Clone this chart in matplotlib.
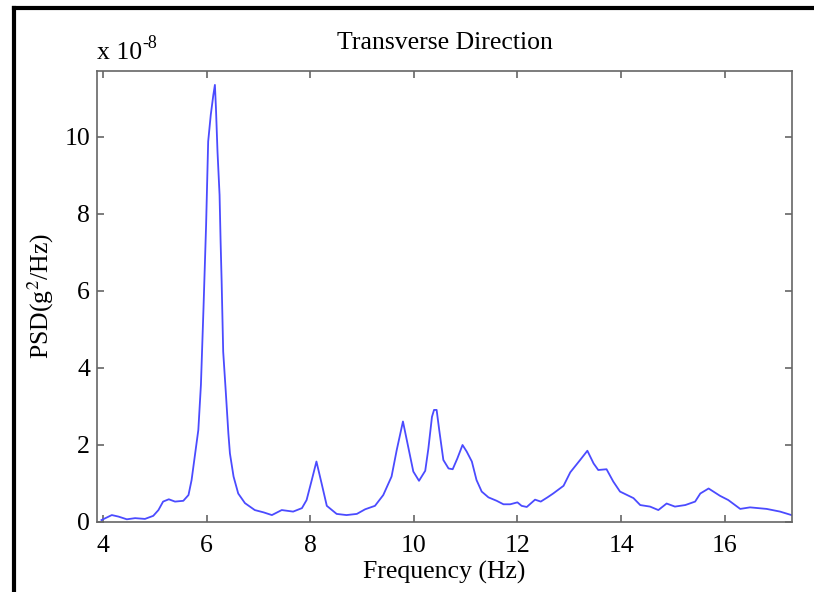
import numpy as np
import matplotlib
matplotlib.use('Agg')
import matplotlib.pyplot as plt
from matplotlib.lines import Line2D

plt.rcParams['font.family'] = ['Liberation Serif', 'DejaVu Serif']
plt.rcParams['mathtext.fontset'] = 'stix'

# frequency (Hz) and PSD (x 1e-8 g^2/Hz)
freq = [3.97, 4.17, 4.30, 4.46, 4.62, 4.81, 4.97, 5.07, 5.16, 5.27, 5.39, 5.55,
        5.65, 5.71, 5.78, 5.84, 5.89, 5.94, 5.99, 6.03, 6.08, 6.13, 6.16, 6.18,
        6.21, 6.25, 6.27, 6.29, 6.32, 6.37, 6.42, 6.45, 6.52, 6.61, 6.74, 6.93,
        7.10, 7.26, 7.45, 7.67, 7.84, 7.93, 8.03, 8.12, 8.22, 8.32, 8.51, 8.70,
        8.90, 9.06, 9.25, 9.41, 9.57, 9.67, 9.79, 9.89, 9.99, 10.10, 10.22,
        10.28, 10.35, 10.39, 10.44, 10.49, 10.57, 10.67, 10.75, 10.84, 10.94,
        11.02, 11.12, 11.21, 11.31, 11.44, 11.60, 11.73, 11.86, 12.00, 12.08,
        12.18, 12.34, 12.45, 12.58, 12.69, 12.89, 13.02, 13.21, 13.35, 13.47,
        13.56, 13.72, 13.85, 13.98, 14.24, 14.37, 14.56, 14.72, 14.88, 15.04,
        15.24, 15.43, 15.53, 15.69, 15.91, 16.07, 16.30, 16.49, 16.81, 17.07,
        17.29]
psd = [0.05, 0.18, 0.14, 0.07, 0.10, 0.08, 0.16, 0.31, 0.53, 0.59, 0.53, 0.55,
       0.70, 1.09, 1.79, 2.39, 3.56, 5.56, 7.71, 9.88, 10.57, 11.09, 11.35, 10.75,
       9.62, 8.49, 7.28, 6.24, 4.42, 3.38, 2.30, 1.78, 1.18, 0.74, 0.49, 0.31,
       0.25, 0.18, 0.31, 0.27, 0.36, 0.57, 1.09, 1.57, 1.00, 0.42, 0.21, 0.18,
       0.21, 0.33, 0.42, 0.70, 1.18, 1.87, 2.61, 1.96, 1.31, 1.07, 1.33,
       1.90, 2.73, 2.91, 2.91, 2.39, 1.61, 1.39, 1.37, 1.65, 2.00,
       1.83, 1.57, 1.09, 0.79, 0.64, 0.55, 0.46, 0.46, 0.51, 0.42,
       0.39, 0.58, 0.53, 0.64, 0.74, 0.94, 1.29, 1.61, 1.85, 1.52,
       1.35, 1.37, 1.05, 0.79, 0.62, 0.44, 0.40, 0.31, 0.48, 0.40,
       0.44, 0.53, 0.74, 0.87, 0.68, 0.57, 0.34, 0.38, 0.34, 0.27,
       0.18]
xticks = [4, 6, 8, 10, 12, 14, 16]
yticks = [0, 2, 4, 6, 8, 10]

fig = plt.figure(figsize=(8.14, 5.92), dpi=100)
ax = fig.add_axes([97/814, 1-522/592, 695/814, 451/592])

ax.plot(freq, psd, color='#4b4bff', lw=1.3)
ax.set_xlim(3.884, 17.30)
ax.set_ylim(0, 11.71)
ax.set_xticks(xticks)
ax.set_yticks(yticks)

for s in ax.spines.values():
    s.set_color('#666666')
    s.set_linewidth(1.2)
ax.tick_params(direction='in', top=True, right=True, length=5, width=1.2,
               color='#666666', labelsize=18.5)
ax.tick_params(axis='x', pad=9)
ax.tick_params(axis='y', pad=5)

ax.set_title('Transverse Direction', fontsize=18.5, pad=16)
ax.set_xlabel('Frequency (Hz)', fontsize=18.5, labelpad=3)
ax.set_ylabel(r'PSD(g$^2$/Hz)', fontsize=18.5, labelpad=6)
ax.text(0, 1.015, 'x 10', transform=ax.transAxes, fontsize=18.5,
        ha='left', va='bottom')
ax.annotate('-8', xy=(0, 1.015), xycoords='axes fraction', xytext=(33, 9),
            textcoords='offset points', fontsize=13, ha='left', va='bottom')

# page frame (left and top edges)
fig.add_artist(Line2D([14/814, 14/814], [0, 1-8/592], color='black', lw=3,
                      transform=fig.transFigure))
fig.add_artist(Line2D([14/814, 1], [1-8/592, 1-8/592], color='black', lw=3,
                      transform=fig.transFigure))

fig.savefig('out.png', dpi=100)
